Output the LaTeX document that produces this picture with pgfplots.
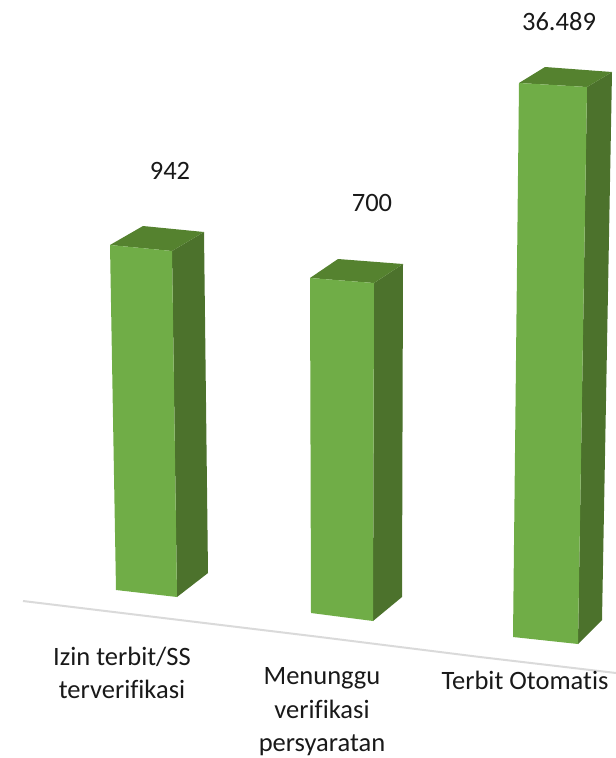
\documentclass[border=0pt]{standalone}
\usepackage{pgfplots}
\pgfplotsset{compat=1.18}
\usepackage{fontspec}
\setmainfont[Ligatures=NoCommon]{Carlito}
\definecolor{fr}{HTML}{70AD47}
\definecolor{tp}{HTML}{55822F}
\definecolor{sd}{HTML}{4C722C}
\definecolor{ln}{HTML}{DADADA}
\tikzset{lab/.style={font=\fontsize{26.5}{33.5}\selectfont,text=black!90,align=center,inner sep=0pt}}
\begin{document}
\begin{tikzpicture}
\path[use as bounding box] (0,0) rectangle (616pt,758pt);
\begin{axis}[
  at={(0,0)},anchor=south west,
  width=616pt,height=758pt,scale only axis,
  xmin=0,xmax=616,ymin=0,ymax=758,y dir=reverse,
  hide axis,clip=false]
% floor line
\addplot[ln,line width=2pt] coordinates {(23,601) (320,637) (480,657) (616,673)};
% bar 1: 942
\addplot[draw=none,fill=sd] coordinates {(172,251) (204,232) (208,573) (177,597)} --cycle;
\addplot[draw=none,fill=tp] coordinates {(110,245) (143,226) (204,232) (172,251)} --cycle;
\addplot[draw=none,fill=fr] coordinates {(110,245) (172,251) (177,597) (116,590)} --cycle;
% bar 2: 700
\addplot[draw=none,fill=sd] coordinates {(374,283) (403,264) (402,597) (373,621)} --cycle;
\addplot[draw=none,fill=tp] coordinates {(310,278) (338,259) (403,264) (374,283)} --cycle;
\addplot[draw=none,fill=fr] coordinates {(310,278) (374,283) (373,621) (311,613)} --cycle;
% bar 3: 36.489
\addplot[draw=none,fill=sd] coordinates {(587,87) (612,72) (602,620) (578,644)} --cycle;
\addplot[draw=none,fill=tp] coordinates {(519,83) (545,67) (612,72) (587,87)} --cycle;
\addplot[draw=none,fill=fr] coordinates {(519,83) (587,87) (578,644) (513,637)} --cycle;
% value labels
\node[lab] at (axis cs:170,171) {942};
\node[lab] at (axis cs:372,203) {700};
\node[lab] at (axis cs:559,22) {36.489};
% category labels
\node[lab] at (axis cs:122,673) {Izin terbit/SS\\terverifikasi};
\node[lab] at (axis cs:322,712) {Menunggu\\verifikasi\\persyaratan};
\node[lab] at (axis cs:525,680) {Terbit Otomatis};
\end{axis}
\end{tikzpicture}
\end{document}
